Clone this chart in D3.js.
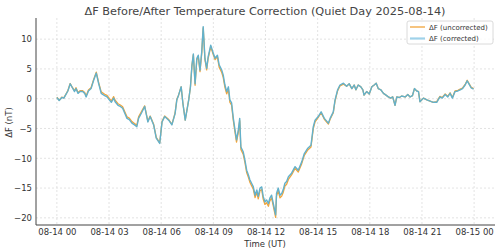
<!DOCTYPE html>
<html>
<head>
<meta charset="utf-8">
<script src="https://cdn.jsdelivr.net/npm/d3@7"></script>
<style>
  body { margin: 0; background: #fff; }
  svg { display: block; font-family: "DejaVu Sans", sans-serif; }
  .tick text { fill: #333; }
</style>
</head>
<body>
<div id="chart"></div>
<script>

/* minutes after 2025-08-14 00:00 UT */
var minutes = [0,8,17,24,31,38,46,54,61,66,73,80,89,96,101,109,118,127,136,144,
  153,165,173,181,188,196,201,211,219,227,234,242,250,259,268,276,282,292,303,314,
  322,334,343,355,363,372,386,397,408,414,420,429,435,443,455,461,466,471,477,483,
  488,494,500,505,511,517,522,531,538,546,554,560,569,574,580,586,592,597,603,609,
  615,620,626,631,635,643,649,655,661,666,672,678,684,690,695,701,707,712,718,724,
  730,735,741,747,755,758,764,770,776,781,787,793,799,810,822,833,845,854,866,877,
  885,891,902,912,923,937,943,954,960,969,977,989,1000,1009,1018,1026,1032,1040,1049,1056,
  1060,1069,1078,1087,1095,1102,1109,1118,1127,1136,1144,1152,1159,1167,1173,1182,1190,1202,1211,1219,
  1227,1234,1242,1248,1253,1265,1277,1288,1299,1311,1322,1330,1340,1349,1357,1365,1374,1384,1392,1400,
  1409,1416,1423,1430,1438];

// dF uncorrected (nT)
var dfUncorrected = [0.25,-0.25,0.25,0.15,0.75,1.35,2.55,1.85,1.35,1.85,1.05,1.35,1.35,1.05,0.45,1.45,1.85,3.25,4.45,2.75,
  1.15,0.75,0.55,0.05,-0.35,0.35,-0.25,-0.85,-1.05,-1.35,-2.15,-3.05,-3.25,-3.85,-4.15,-4.45,-3.05,-2.15,-1.2,-3.8,
  -2.9,-4.3,-6.5,-7.4,-3.8,-2.9,-3.5,-4.3,-2.4,-0.1,0.6,2.0,-0.8,-3.6,-0.2,2.0,5.5,7.4,2.25,6.55,
  7.05,4.55,7.65,11.9,6.55,4.85,6.75,8.75,7.65,6.55,7.05,5.3,4.4,3.6,1.9,0.8,1.6,-0.6,-1.1,-3.7,
  -5.7,-7.3,-5.7,-3.7,-8.5,-9.3,-10.7,-12.4,-13.2,-14.0,-14.6,-15.2,-16.6,-15.7,-16.8,-15.45,-15.25,-16.85,-17.75,-17.45,
  -18.05,-17.15,-16.65,-18.05,-19.9,-16.35,-15.45,-16.65,-16.35,-15.75,-14.65,-14.35,-13.55,-12.8,-11.7,-12.3,-10.9,-9.5,-8.6,-8.1,
  -5.0,-3.9,-3.15,-2.35,-3.45,-4.25,-3.45,-2.35,-0.35,1.35,2.15,2.45,2.1,2.5,1.7,2.3,1.5,2.3,2.0,1.5,
  0.6,1.2,0.8,2.0,2.3,2.6,1.7,1.5,0.9,0.6,0.3,0.1,0.3,-1.1,0.3,0.2,0.45,0.3,0.7,0.3,
  0.5,1.7,1.3,1.2,-0.5,0.1,-0.2,-0.4,-0.6,-0.5,0.4,0.2,0.8,0.4,1.0,0.2,1.3,1.4,1.6,1.8,
  2.4,3.1,2.5,1.9,1.7];

// dF corrected (nT)
var dfCorrected = [0.2,-0.3,0.2,0.1,0.7,1.3,2.5,1.8,1.2,1.7,0.9,1.2,1.2,0.9,0.3,1.3,1.7,3.1,4.3,2.6,
  0.9,0.5,0.3,-0.2,-0.6,0.1,-0.5,-1.1,-1.3,-1.6,-2.4,-3.3,-3.5,-4.1,-4.4,-4.7,-3.3,-2.4,-1.3,-3.9,
  -3.0,-4.4,-6.6,-7.5,-3.9,-3.0,-3.6,-4.4,-2.5,-0.2,0.6,2.0,-0.8,-3.6,-0.2,2.0,5.5,7.5,2.5,6.8,
  7.3,4.8,7.9,12.1,6.8,5.1,7.0,9.0,7.9,6.8,7.3,5.7,4.8,4.0,2.3,1.2,2.0,-0.2,-0.7,-3.3,
  -5.3,-6.9,-5.3,-3.3,-8.1,-8.9,-10.3,-12.0,-12.8,-13.6,-14.2,-14.8,-16.2,-15.3,-16.4,-15.0,-14.8,-16.4,-17.3,-17.0,
  -17.6,-16.7,-16.2,-17.6,-19.5,-15.9,-15.0,-16.2,-15.9,-15.3,-14.2,-13.9,-13.1,-12.5,-11.4,-12.0,-10.6,-9.2,-8.3,-7.8,
  -4.7,-3.6,-3.0,-2.2,-3.3,-4.1,-3.3,-2.2,-0.2,1.5,2.3,2.6,2.1,2.5,1.7,2.3,1.5,2.3,2.0,1.5,
  0.6,1.2,0.8,2.0,2.3,2.6,1.7,1.5,0.9,0.6,0.3,0.1,0.3,-1.1,0.3,0.2,0.45,0.3,0.7,0.3,
  0.5,1.7,1.3,1.2,-0.5,0.1,-0.2,-0.4,-0.6,-0.6,0.3,0.1,0.7,0.3,0.9,0.1,1.2,1.3,1.5,1.7,
  2.3,3.0,2.4,1.8,1.6];

var yTicks = [-20, -15, -10, -5, 0, 5, 10];
var seriesNames = ["ΔF (uncorrected)", "ΔF (corrected)"];
var seriesColors = ["#f2a53a", "#63b1cb"];

var width = 500, height = 252;
var margin = { top: 18, left: 36, right: 5, bottom: 27 };

var t0 = Date.UTC(2025, 7, 14, 0, 0);
var toDate = function(m) { return new Date(t0 + m * 60000); };

var svg = d3.select("#chart").append("svg")
    .attr("width", width)
    .attr("height", height);

var x = d3.scaleUtc()
    .domain([toDate(-72), toDate(1440 + 72)])
    .range([margin.left, width - margin.right]);

var y = d3.scaleLinear()
    .domain([-21.2, 13.55])
    .range([height - margin.bottom, margin.top]);

var xTicks = d3.utcHour.every(3).range(toDate(0), toDate(1441));

// grid
var grid = svg.append("g").attr("class", "grid");
grid.selectAll("line.gx").data(xTicks).enter().append("line")
    .attr("x1", function(d) { return x(d); })
    .attr("x2", function(d) { return x(d); })
    .attr("y1", margin.top).attr("y2", height - margin.bottom);
grid.selectAll("line.gy").data(yTicks).enter().append("line")
    .attr("y1", function(d) { return y(d); })
    .attr("y2", function(d) { return y(d); })
    .attr("x1", margin.left).attr("x2", width - margin.right);
grid.selectAll("line")
    .attr("stroke", "#dcdcdc")
    .attr("stroke-width", 0.8)
    .attr("stroke-dasharray", "2,2");

// lines
var rows = minutes.map(function(m, i) {
    return { t: toDate(m), u: dfUncorrected[i], c: dfCorrected[i] };
});

var lineU = d3.line().x(function(d) { return x(d.t); }).y(function(d) { return y(d.u); });
var lineC = d3.line().x(function(d) { return x(d.t); }).y(function(d) { return y(d.c); });

svg.append("path").datum(rows)
    .attr("fill", "none")
    .attr("stroke", seriesColors[0])
    .attr("stroke-width", 1.3)
    .attr("stroke-linejoin", "round")
    .attr("d", lineU);

svg.append("path").datum(rows)
    .attr("fill", "none")
    .attr("stroke", seriesColors[1])
    .attr("stroke-width", 1.4)
    .attr("stroke-linejoin", "round")
    .attr("d", lineC);

// axes
var xAxis = svg.append("g")
    .attr("transform", "translate(0," + (height - margin.bottom) + ")")
    .call(d3.axisBottom(x).tickValues(xTicks).tickFormat(d3.utcFormat("%m-%d %H"))
        .tickSize(0).tickPadding(4));

var yAxis = svg.append("g")
    .attr("transform", "translate(" + margin.left + ",0)")
    .call(d3.axisLeft(y).tickValues(yTicks).tickSize(0).tickPadding(4));

[xAxis, yAxis].forEach(function(a) {
    a.select(".domain").remove();
    a.selectAll("text").style("font-size", "8.5px").style("font-family", "DejaVu Sans");
});

// spines: left and bottom only
svg.append("line")
    .attr("x1", margin.left).attr("x2", margin.left)
    .attr("y1", margin.top).attr("y2", height - margin.bottom)
    .attr("stroke", "#444").attr("stroke-width", 1);
svg.append("line")
    .attr("x1", margin.left).attr("x2", width - margin.right)
    .attr("y1", height - margin.bottom).attr("y2", height - margin.bottom)
    .attr("stroke", "#444").attr("stroke-width", 1);

// title & labels
svg.append("text")
    .attr("x", 265).attr("y", 15)
    .attr("text-anchor", "middle")
    .style("font-size", "11.3px").style("fill", "#444")
    .text("ΔF Before/After Temperature Correction (Quiet Day 2025-08-14)");

svg.append("text")
    .attr("x", 265).attr("y", 247)
    .attr("text-anchor", "middle")
    .style("font-size", "8.5px").style("fill", "#333")
    .text("Time (UT)");

svg.append("text")
    .attr("transform", "translate(12," + y(-4) + ") rotate(-90)")
    .attr("text-anchor", "middle")
    .style("font-size", "8.5px").style("fill", "#333")
    .text("ΔF (nT)");

// legend
var legend = svg.append("g").attr("transform", "translate(407,21)");
legend.append("rect")
    .attr("width", 86).attr("height", 23).attr("rx", 2)
    .attr("fill", "#fff").attr("fill-opacity", 0.8)
    .attr("stroke", "#d0d0d0").attr("stroke-width", 0.8);

seriesNames.forEach(function(name, i) {
    var row = legend.append("g").attr("transform", "translate(0," + (6 + i * 11.5) + ")");
    row.append("line")
        .attr("x1", 3).attr("x2", 18)
        .attr("stroke", i == 0 ? seriesColors[0] : "#9fd2ea")
        .attr("stroke-width", i == 0 ? 1.3 : 2.2);
    row.append("text")
        .attr("x", 22).attr("y", 2.5)
        .style("font-size", "7px").style("fill", "#333")
        .text(name);
});

</script>
</body>
</html>
